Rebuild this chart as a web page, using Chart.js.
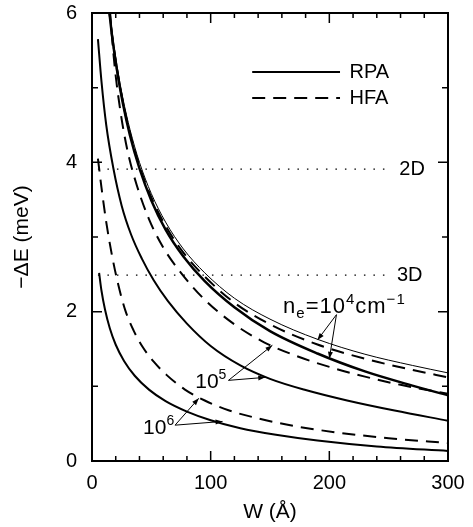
<!DOCTYPE html>
<html>
<head>
<meta charset="utf-8">
<script src="https://cdn.jsdelivr.net/npm/chart.js@4.4.1/dist/chart.umd.min.js"></script>
<style>body{margin:0;background:#fff}</style>
</head>
<body>
<canvas id="grafico" width="473" height="527"></canvas>
<script>
// -dE (meV) against W (Angstrom)

// n_e = 10^4, thin solid
const wThin = [14, 17, 21, 26, 32, 40, 50, 62, 77, 95, 120, 150, 190, 230, 270, 300];
const eThin = [6.15, 5.74, 5.3, 4.86, 4.44, 4.0, 3.58, 3.2, 2.84, 2.52, 2.18, 1.9, 1.63, 1.43, 1.28, 1.18];
// n_e = 10^4, dashed next to the thin one
const wHfa4 = [14, 17, 21, 26, 32, 40, 50, 62, 77, 95, 120, 150, 190, 230, 270, 300];
const eHfa4 = [6.1, 5.69, 5.25, 4.81, 4.39, 3.95, 3.53, 3.15, 2.79, 2.47, 2.12, 1.83, 1.56, 1.37, 1.22, 1.12];
// n_e = 10^4, thick solid
const wThick = [14, 17, 21, 26, 32, 40, 50, 62, 77, 95, 120, 150, 190, 230, 270, 300];
const eThick = [6.1, 5.68, 5.24, 4.79, 4.36, 3.92, 3.49, 3.1, 2.74, 2.41, 2.06, 1.74, 1.44, 1.2, 1.01, 0.88];
// n_e = 10^5
const wRpa5 = [5, 8, 12, 18, 25, 33, 42, 52, 64, 80, 100, 125, 150, 180, 215, 255, 300];
const eRpa5 = [5.65, 5.08, 4.5, 3.92, 3.42, 3.03, 2.71, 2.42, 2.14, 1.84, 1.54, 1.28, 1.1, 0.95, 0.81, 0.675, 0.54];
const wHfa5 = [14, 16, 19, 24, 30, 38, 48, 60, 75, 95, 120, 145, 170, 200, 230, 260, 300];
const eHfa5 = [6.3, 5.85, 5.3, 4.68, 4.15, 3.68, 3.24, 2.86, 2.52, 2.16, 1.83, 1.59, 1.42, 1.26, 1.13, 1.02, 0.9];
// n_e = 10^6
const wRpa6 = [6, 8, 11, 15, 20, 27, 36, 48, 62, 80, 100, 125, 155, 190, 240, 300];
const eRpa6 = [2.52, 2.28, 2.025, 1.777, 1.557, 1.34, 1.142, 0.956, 0.802, 0.662, 0.546, 0.439, 0.352, 0.275, 0.195, 0.135];
const wHfa6 = [5, 8, 12, 17, 22, 28, 35, 43, 52, 63, 78, 95, 115, 140, 170, 205, 250, 300];
const eHfa6 = [4.05, 3.66, 3.2, 2.74, 2.37, 2.02, 1.75, 1.52, 1.33, 1.15, 0.96, 0.81, 0.68, 0.57, 0.47, 0.385, 0.305, 0.24];

// dotted 2D / 3D levels
const refW = [5, 248];
const level2D = 3.91;
const level3D = 2.49;

const xTicks = [0, 100, 200, 300];
const yTicks = [0, 2, 4, 6];

function pts(ws, es) {
  return ws.map((w, i) => ({x: w, y: es[i]}));
}

const FONT = "'Liberation Sans', Arial, sans-serif";
const dash = [13, 8];

function curve(ws, es, width, dashed) {
  return {
    data: pts(ws, es),
    showLine: true,
    borderColor: '#000',
    borderWidth: width,
    borderDash: dashed ? dash : [],
    pointRadius: 0,
    cubicInterpolationMode: 'monotone',
    fill: false
  };
}

function level(e) {
  return {
    data: refW.map(w => ({x: w, y: e})),
    showLine: true,
    borderColor: '#000',
    borderWidth: 1.3,
    borderDash: [1.5, 8],
    pointRadius: 0
  };
}

// text with sub/superscripts: parts = [[text, size, dy], ...]
function richText(ctx, parts, x, y) {
  let cx = x;
  parts.forEach(p => {
    ctx.font = p[1] + 'px ' + FONT;
    ctx.fillText(p[0], cx, y + p[2]);
    cx += ctx.measureText(p[0]).width;
  });
}

function arrow(ctx, x0, y0, x1, y1) {
  ctx.beginPath();
  ctx.moveTo(x0, y0);
  ctx.lineTo(x1, y1);
  ctx.stroke();
  const a = Math.atan2(y1 - y0, x1 - x0);
  ctx.beginPath();
  ctx.moveTo(x1, y1);
  ctx.lineTo(x1 - 7 * Math.cos(a) + 2.5 * Math.sin(a), y1 - 7 * Math.sin(a) - 2.5 * Math.cos(a));
  ctx.lineTo(x1 - 7 * Math.cos(a) - 2.5 * Math.sin(a), y1 - 7 * Math.sin(a) + 2.5 * Math.cos(a));
  ctx.closePath();
  ctx.fill();
}

const extras = {
  id: 'extras',
  afterDatasetsDraw(chart) {
    const ctx = chart.ctx;
    const a = chart.chartArea;
    const sx = chart.scales.x, sy = chart.scales.y;
    const X = v => sx.getPixelForValue(v);
    const Y = v => sy.getPixelForValue(v);
    ctx.save();
    ctx.strokeStyle = '#000';
    ctx.fillStyle = '#000';

    // frame
    ctx.lineWidth = 2;
    ctx.strokeRect(a.left, a.top, a.right - a.left, a.bottom - a.top);

    // inward ticks on all sides
    ctx.lineWidth = 1.5;
    ctx.beginPath();
    for (let v = 0; v <= 300; v += 20) {
      const len = v % 100 === 0 ? 10 : 5;
      const px = X(v);
      ctx.moveTo(px, a.bottom); ctx.lineTo(px, a.bottom - len);
      ctx.moveTo(px, a.top); ctx.lineTo(px, a.top + len);
    }
    for (let v = 0; v <= 6; v += 1) {
      const len = v % 2 === 0 ? 10 : 6;
      const py = Y(v);
      ctx.moveTo(a.left, py); ctx.lineTo(a.left + len, py);
      ctx.moveTo(a.right, py); ctx.lineTo(a.right - len, py);
    }
    ctx.stroke();

    // legend
    ctx.lineWidth = 2;
    ctx.beginPath();
    ctx.moveTo(X(135), Y(5.21)); ctx.lineTo(X(209), Y(5.21));
    ctx.stroke();
    ctx.setLineDash(dash);
    ctx.beginPath();
    ctx.moveTo(X(135), Y(4.86)); ctx.lineTo(X(209), Y(4.86));
    ctx.stroke();
    ctx.setLineDash([]);
    ctx.font = '20px ' + FONT;
    ctx.textBaseline = 'middle';
    ctx.fillText('RPA', X(217), Y(5.21));
    ctx.fillText('HFA', X(217), Y(4.86));
    ctx.fillText('2D', X(259), Y(level2D));
    ctx.fillText('3D', X(257), Y(level3D));

    // density labels
    ctx.textBaseline = 'alphabetic';
    ctx.letterSpacing = '1px';
    richText(ctx, [['n', 22, 0], ['e', 15, 5], ['=10', 22, 0], ['4', 15, -9], ['cm', 22, 0], ['\u22121', 15, -9]], X(161), Y(1.98));
    ctx.letterSpacing = '0px';
    richText(ctx, [['10', 21, 0], ['5', 14, -9]], X(87), Y(0.98));
    richText(ctx, [['10', 21, 0], ['6', 14, -9]], X(43), Y(0.36));

    // arrows to the curves
    ctx.lineWidth = 1;
    arrow(ctx, X(206), Y(1.96), X(190), Y(1.62));
    arrow(ctx, X(206), Y(1.96), X(200), Y(1.37));
    arrow(ctx, X(115), Y(1.08), X(152), Y(1.55));
    arrow(ctx, X(115), Y(1.08), X(146), Y(1.12));
    arrow(ctx, X(70), Y(0.48), X(90), Y(0.84));
    arrow(ctx, X(70), Y(0.48), X(110), Y(0.53));
    ctx.restore();
  }
};

new Chart(document.getElementById('grafico'), {
  type: 'scatter',
  data: {
    datasets: [
      curve(wThin, eThin, 1, false),
      curve(wHfa4, eHfa4, 2, true),
      curve(wThick, eThick, 2.5, false),
      curve(wRpa5, eRpa5, 2, false),
      curve(wHfa5, eHfa5, 2, true),
      curve(wRpa6, eRpa6, 2, false),
      curve(wHfa6, eHfa6, 2, true),
      level(level2D),
      level(level3D)
    ]
  },
  options: {
    responsive: false,
    animation: false,
    events: [],
    layout: {padding: {left: 0, right: 25, top: 13, bottom: 0}},
    plugins: {legend: {display: false}, tooltip: {enabled: false}},
    scales: {
      x: {
        type: 'linear', min: 0, max: 300,
        afterBuildTicks: s => { s.ticks = xTicks.map(v => ({value: v})); },
        afterFit: s => { s.height = 66; s.paddingLeft = 0; s.paddingRight = 0; },
        grid: {display: false, drawTicks: false},
        border: {display: false},
        ticks: {color: '#000', font: {family: FONT, size: 20}, padding: 10, maxRotation: 0},
        title: {display: true, text: 'W (\u00c5)', color: '#000', font: {family: FONT, size: 21}, padding: {top: 0, bottom: 2}}
      },
      y: {
        type: 'linear', min: 0, max: 6,
        afterBuildTicks: s => { s.ticks = yTicks.map(v => ({value: v})); },
        afterFit: s => { s.width = 92; s.paddingTop = 0; s.paddingBottom = 0; },
        grid: {display: false, drawTicks: false},
        border: {display: false},
        ticks: {color: '#000', font: {family: FONT, size: 20}, padding: 15},
        title: {display: true, text: '\u2212\u0394E (meV)', color: '#000', font: {family: FONT, size: 21}, padding: {top: 10, bottom: 0}}
      }
    }
  },
  plugins: [extras]
});
</script>
</body>
</html>
